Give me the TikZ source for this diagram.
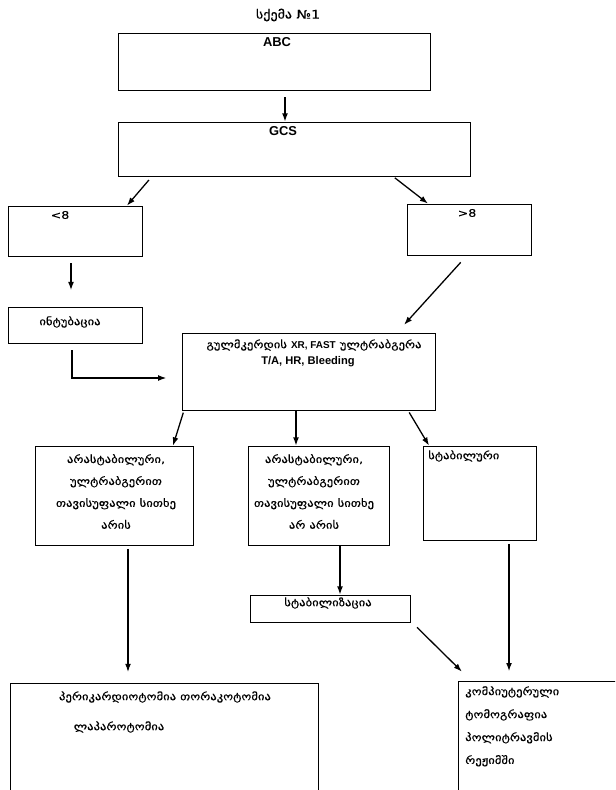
\documentclass[tikz,border=0pt]{standalone}
\usepackage{fontspec}
\setmainfont{Liberation Sans}
\newfontfamily\geo{DejaVu Sans}[FakeStretch=1.2, FakeBold=0.2]
\usetikzlibrary{arrows.meta}

\tikzset{
  box/.style={draw, line width=0.7pt, inner sep=0pt},
  arr/.style={line width=1.1pt, -{Latex[length=7pt,width=5pt]}},
  geotxt/.style={font=\geo\fontsize{9}{18.7}\selectfont, inner sep=0pt},
  lattxt/.style={font=\bfseries\fontsize{9.5}{11}\selectfont, inner sep=0pt}
}

\begin{document}
\begin{tikzpicture}[x=0.03cm, y=-0.03cm]
\useasboundingbox (0,0) rectangle (615,790);
\clip (0,0) rectangle (615,790);

% title
\node [geotxt, font=\geo\fontsize{10}{12}\selectfont] (title) at (288,15) {სქემა №1};

% boxes
\node [box, minimum width=9.36cm, minimum height=1.71cm] (abc) at (274,61.5) {};
\node [box, minimum width=10.56cm, minimum height=1.62cm] (gcs) at (294,149) {};
\node [box, minimum width=4.02cm, minimum height=1.5cm] (lt8) at (75,231) {};
\node [box, minimum width=3.72cm, minimum height=1.53cm] (gt8) at (469,229.5) {};
\node [box, minimum width=4.02cm, minimum height=1.08cm] (intub) at (75,325) {};
\node [box, minimum width=7.59cm, minimum height=2.31cm] (exam) at (308.5,371.5) {};
\node [box, minimum width=4.74cm, minimum height=2.97cm] (lbox) at (114,495.5) {};
\node [box, minimum width=4.23cm, minimum height=2.97cm] (mbox) at (318.5,495.5) {};
\node [box, minimum width=3.39cm, minimum height=2.82cm] (rbox) at (479.5,493) {};
\node [box, minimum width=4.8cm, minimum height=0.81cm] (stab) at (330,608.5) {};
\node [box, minimum width=9.24cm, minimum height=3.6cm] (surg) at (164,743) {};
\node [box, minimum width=5.1cm, minimum height=3.6cm] (ct) at (543,741) {};

% texts
\node [lattxt, font=\bfseries\fontsize{11}{13}\selectfont] (abctxt) at (277,42) {ABC};
\node [lattxt, font=\bfseries\fontsize{11}{13}\selectfont] (gcstxt) at (283,131) {GCS};
\node [geotxt] (lt8txt) at (60,215) {<8};
\node [geotxt] (gt8txt) at (467,213) {>8};
\node [geotxt] (intubtxt) at (70,322) {ინტუბაცია};
\node [geotxt] (examtxt1) at (314,345) {გულმკერდის {\rmfamily\bfseries\fontsize{8.5}{10}\selectfont XR, FAST} ულტრაბგერა};
\node [lattxt] (examtxt2) at (308,362) {T/A, HR, Bleeding};
\node [geotxt, align=center] (lboxtxt) at (116,491.5) {არასტაბილური,\\ულტრაბგერით\\თავისუფალი სითხე\\არის};
\node [geotxt, align=center] (mboxtxt) at (314,491.5) {არასტაბილური,\\ულტრაბგერით\\თავისუფალი სითხე\\არ არის};
\node [geotxt, anchor=west] (rboxtxt) at (428,456) {სტაბილური};
\node [geotxt] (stabtxt) at (328,603) {სტაბილიზაცია};
\node [geotxt] (surgtxt1) at (165,697) {პერიკარდიოტომია თორაკოტომია};
\node [geotxt] (surgtxt2) at (119,727) {ლაპაროტომია};
\node [geotxt, anchor=north west, align=left, font=\geo\fontsize{9}{19.6}\selectfont] (cttxt) at (465,686) {კომპიუტერული\\ტომოგრაფია\\პოლიტრავმის\\რეჟიმში};

% arrows
\draw [arr, shorten <=6pt] (abc.south -| 285,0) -- (gcs.north -| 285,0);
\draw [arr, shorten <=4pt] (gcs.south -| 152,0) -- (lt8.north -| 127,0);
\draw [arr, shorten <=2pt] (gcs.south -| 393,0) -- (gt8.north -| 428,0);
\draw [arr, shorten <=6pt, shorten >=14pt] (lt8.south -| 71,0) -- (intub.north -| 71,0);
\draw [arr, shorten <=8pt, shorten >=9pt] (gt8.south -| 467,0) -- (exam.north -| 397,0);
\draw [arr, shorten <=6pt, shorten >=13pt] (intub.south -| 72,0) |- (exam.west |- 0,378);
\draw [arr, shorten <=2pt] (exam.south -| 184,0) -- (lbox.north -| 173,0);
\draw [arr] (exam.south -| 296,0) -- (mbox.north -| 296,0);
\draw [arr, shorten <=2pt] (exam.south -| 408,0) -- (rbox.north -| 429,0);
\draw [arr, shorten <=3pt, shorten >=9pt] (lbox.south -| 128,0) -- (surg.north -| 128,0);
\draw [arr] (mbox.south -| 340,0) -- (stab.north -| 340,0);
\draw [arr, shorten <=6pt, shorten >=11pt] (stab.south -| 412,0) -- (ct.north -| 471,0);
\draw [arr, shorten <=3pt, shorten >=8pt] (rbox.south -| 509,0) -- (ct.north -| 509,0);
\end{tikzpicture}
\end{document}
